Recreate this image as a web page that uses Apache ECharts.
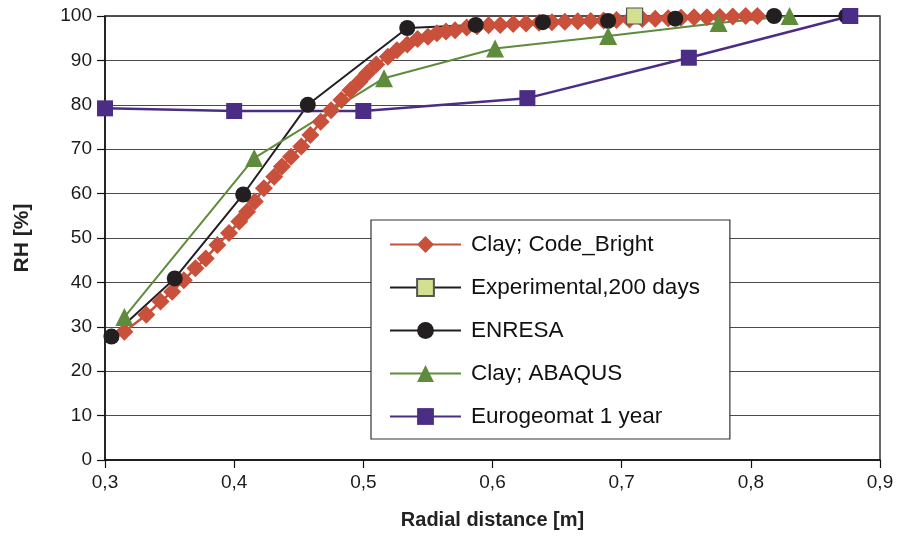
<!DOCTYPE html>
<html>
<head>
<meta charset="utf-8">
<script src="https://cdn.jsdelivr.net/npm/echarts@6/dist/echarts.min.js"></script>
<style>
  html, body { margin: 0; padding: 0; background: #ffffff; }
  #chart { width: 899px; height: 539px; }
</style>
</head>
<body>
<div id="chart"></div>
<script>
// Relative humidity [%] against radial distance [m]

const seriesNames = [
  'Clay; Code_Bright',
  'Experimental,200 days',
  'ENRESA',
  'Clay; ABAQUS',
  'Eurogeomat 1 year'
];

const codeBrightX = [
  0.315, 0.332, 0.343, 0.352, 0.361, 0.370, 0.378, 0.387, 0.396, 0.404,
  0.410, 0.416, 0.423, 0.431, 0.437, 0.444, 0.452, 0.459, 0.467, 0.475,
  0.483, 0.490, 0.497, 0.503, 0.510, 0.519, 0.526, 0.534, 0.542, 0.550,
  0.557, 0.564, 0.571, 0.580, 0.588, 0.597, 0.606, 0.616, 0.626, 0.636,
  0.646, 0.656, 0.666, 0.676, 0.686, 0.696, 0.706, 0.716, 0.726, 0.736,
  0.746, 0.756, 0.766, 0.776, 0.786, 0.796, 0.805
];
const codeBrightRH = [
  28.9, 32.7, 35.7, 37.9, 40.5, 43.2, 45.4, 48.4, 51.1, 53.7,
  55.9, 58.2, 61.2, 63.8, 66.1, 68.3, 70.6, 73.2, 76.2, 78.8,
  81.1, 83.3, 85.2, 87.1, 89.1, 90.8, 92.3, 93.6, 94.8, 95.3,
  96.1, 96.5, 96.8, 97.4, 97.7, 97.9, 98.0, 98.2, 98.3, 98.5,
  98.6, 98.7, 98.8, 98.9, 99.0, 99.1, 99.2, 99.3, 99.4, 99.5,
  99.6, 99.7, 99.7, 99.8, 99.9, 100, 100
];

const experimentalX = [0.71];
const experimentalRH = [100];

const enresaX = [0.305, 0.354, 0.407, 0.457, 0.534, 0.587, 0.639, 0.6895, 0.7415, 0.818, 0.874];
const enresaRH = [27.8, 40.9, 59.8, 80.0, 97.3, 98.0, 98.6, 98.9, 99.4, 100, 100];

const abaqusX = [0.315, 0.4155, 0.516, 0.602, 0.6895, 0.775, 0.83];
const abaqusRH = [32.2, 68.0, 86.0, 92.7, 95.5, 98.4, 100];

const eurogeomatX = [0.3, 0.4, 0.5, 0.627, 0.752, 0.877];
const eurogeomatRH = [79.2, 78.6, 78.6, 81.5, 90.6, 100];

const xTicks = { min: 0.3, max: 0.9, step: 0.1 };
const yTicks = { min: 0, max: 100, step: 10 };

const pairs = (xs, ys) => xs.map((x, i) => [x, ys[i]]);

const FONT = '"Liberation Sans", Arial, Helvetica, sans-serif';

const chart = echarts.init(document.getElementById('chart'), null, { renderer: 'canvas' });

function lineSeries(name, data, color, symbol, size, width, fill, border) {
  return {
    name: name,
    type: 'line',
    data: data,
    symbol: symbol,
    symbolSize: size,
    showSymbol: true,
    clip: false,
    animation: false,
    lineStyle: { color: color, width: width },
    itemStyle: {
      color: fill || color,
      borderColor: border || fill || color,
      borderWidth: border ? 1.2 : 0
    },
    emphasis: { disabled: true }
  };
}

chart.setOption({
  backgroundColor: '#ffffff',
  animation: false,
  grid: {
    left: 105, right: 19, top: 16, bottom: 79,
    show: true, borderColor: '#1a1a1a', borderWidth: 1.3, backgroundColor: 'transparent'
  },
  legend: {
    orient: 'vertical',
    left: 371, top: 220,
    padding: [13, 30, 11, 18],
    backgroundColor: '#ffffff',
    borderColor: '#333333',
    borderWidth: 1.2,
    itemWidth: 71,
    itemHeight: 21,
    itemGap: 20,
    textStyle: { fontFamily: FONT, fontSize: 22.5, color: '#111111', lineHeight: 22, padding: [0, 0, 0, 5] },
    data: seriesNames
  },
  xAxis: {
    type: 'value',
    min: xTicks.min, max: xTicks.max, interval: xTicks.step,
    name: 'Radial distance [m]',
    nameLocation: 'middle',
    nameGap: 50,
    nameTextStyle: { fontFamily: FONT, fontSize: 20, fontWeight: 'bold', color: '#222222' },
    axisLine: { show: true, onZero: false, lineStyle: { color: '#111111', width: 1.5 } },
    axisTick: { show: true, length: 8, lineStyle: { color: '#111111', width: 1.2 } },
    axisLabel: {
      fontFamily: FONT, fontSize: 19, color: '#1a1a1a', margin: 13,
      formatter: v => v.toFixed(1).replace('.', ',')
    },
    splitLine: { show: false }
  },
  yAxis: {
    type: 'value',
    min: yTicks.min, max: yTicks.max, interval: yTicks.step,
    name: 'RH [%]',
    nameLocation: 'middle',
    nameGap: 72,
    nameTextStyle: { fontFamily: FONT, fontSize: 21, fontWeight: 'bold', color: '#222222' },
    axisLine: { show: true, lineStyle: { color: '#111111', width: 1.5 } },
    axisTick: { show: true, length: 8, lineStyle: { color: '#111111', width: 1.2 } },
    axisLabel: { fontFamily: FONT, fontSize: 19, color: '#1a1a1a', margin: 13 },
    splitLine: { show: true, lineStyle: { color: '#4a4a4a', width: 1.2 } }
  },
  series: [
    lineSeries(seriesNames[0], pairs(codeBrightX, codeBrightRH), '#c9503a', 'diamond', 18, 2.5),
    lineSeries(seriesNames[1], pairs(experimentalX, experimentalRH), '#231f20', 'rect', 16, 2, '#d4e08f', '#555555'),
    lineSeries(seriesNames[2], pairs(enresaX, enresaRH), '#231f20', 'circle', 16, 2),
    lineSeries(seriesNames[3], pairs(abaqusX, abaqusRH), '#5f8b3c', 'triangle', 18, 2),
    lineSeries(seriesNames[4], pairs(eurogeomatX, eurogeomatRH), '#4b2d85', 'rect', 16, 2.5)
  ]
});
</script>
</body>
</html>
